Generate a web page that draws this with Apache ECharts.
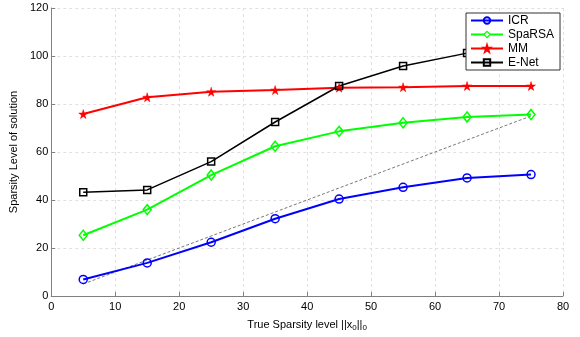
<!DOCTYPE html>
<html>
<head>
<meta charset="utf-8">
<script src="https://cdn.jsdelivr.net/npm/echarts@6/dist/echarts.min.js"></script>
<style>html,body{margin:0;padding:0;background:#fff}#c{width:580px;height:337px}</style>
</head>
<body>
<div id="c"></div>
<script>
var xValues = [5, 15, 25, 35, 45, 55, 65, 75];
var icr    = [6.9, 13.8, 22.4, 32.2, 40.4, 45.3, 49.2, 50.6];
var sparsa = [25.3, 36.0, 50.4, 62.4, 68.6, 72.2, 74.6, 75.6];
var mm     = [75.8, 82.8, 85.1, 85.8, 86.8, 87.0, 87.5, 87.5];
var enet   = [43.2, 44.2, 56.0, 72.5, 87.5, 95.8, 101.2, 104.0];
var diagX  = [5, 75];
var diagY  = [5, 75];
var xTicks = [0, 10, 20, 30, 40, 50, 60, 70, 80];
var yTicks = [0, 20, 40, 60, 80, 100, 120];

function pairs(xs, ys) { return xs.map(function (x, i) { return [x, ys[i]]; }); }

var star = 'path://M50,0 L61,35 L98,35 L68,57 L79,91 L50,70 L21,91 L32,57 L2,35 L39,35 Z';
var font = 'Liberation Sans, Arial, sans-serif';

var chart = echarts.init(document.getElementById('c'), null, {renderer: 'canvas'});
chart.setOption({
  animation: false,
  backgroundColor: '#fff',
  textStyle: {fontFamily: font},
  grid: {left: 51, right: 17, top: 8, bottom: 41, containLabel: false},
  legend: {
    orient: 'vertical',
    left: 466, top: 13,
    padding: [1, 6, 1, 4],
    itemWidth: 32, itemHeight: 8, itemGap: 1,
    backgroundColor: '#fff',
    borderColor: '#333', borderWidth: 1,
    textStyle: {fontFamily: font, fontSize: 12, color: '#000', lineHeight: 13},
    data: [
      {name: 'ICR'},
      {name: 'SpaRSA', itemStyle: {color: '#fff', borderColor: '#00ff00', borderWidth: 1.2}},
      {name: 'MM'},
      {name: 'E-Net'}
    ]
  },
  xAxis: {
    type: 'value', min: 0, max: 80, interval: 10,
    name: 'True Sparsity level ||x{s|0}||{s|0}',
    nameLocation: 'middle', nameGap: 22,
    nameTextStyle: {fontFamily: font, fontSize: 11, color: '#000',
      rich: {s: {fontSize: 8, verticalAlign: 'bottom', padding: [6, 0, 0, 0], fontFamily: font}}},
    axisLine: {show: true, lineStyle: {color: '#808080', width: 1}},
    axisTick: {show: true, inside: true, length: 4, lineStyle: {color: '#808080'}},
    axisLabel: {fontFamily: font, fontSize: 11, color: '#000', margin: 5,
      formatter: function (v) { return xTicks.indexOf(v) >= 0 ? String(v) : ''; }},
    splitLine: {show: true, lineStyle: {color: '#e0e0e0', type: [3, 3], width: 1}}
  },
  yAxis: {
    type: 'value', min: 0, max: 120, interval: 20,
    name: 'Sparsity Level of solution',
    nameLocation: 'middle', nameGap: 29,
    nameTextStyle: {fontFamily: font, fontSize: 11, color: '#000'},
    axisLine: {show: true, lineStyle: {color: '#808080', width: 1}},
    axisTick: {show: true, inside: true, length: 4, lineStyle: {color: '#808080'}},
    axisLabel: {fontFamily: font, fontSize: 11, color: '#000', margin: 3,
      formatter: function (v) { return yTicks.indexOf(v) >= 0 ? String(v) : ''; }},
    splitLine: {show: true, lineStyle: {color: '#e0e0e0', type: [3, 3], width: 1}}
  },
  series: [
    {
      name: 'diag', type: 'line', data: pairs(diagX, diagY), symbol: 'none',
      lineStyle: {color: '#555', width: 0.8, type: [3, 2]}, z: 1, silent: true
    },
    {
      name: 'ICR', type: 'line', data: pairs(xValues, icr),
      symbol: 'circle', symbolSize: 8,
      itemStyle: {color: 'rgba(255,255,255,0)', borderColor: '#0000ff', borderWidth: 1.5},
      lineStyle: {color: '#0000ff', width: 2}, color: '#0000ff'
    },
    {
      name: 'SpaRSA', type: 'line', data: pairs(xValues, sparsa),
      symbol: 'diamond', symbolSize: [8, 10],
      itemStyle: {color: 'rgba(255,255,255,0)', borderColor: '#00ff00', borderWidth: 1.5},
      lineStyle: {color: '#00ff00', width: 2}, color: '#00ff00'
    },
    {
      name: 'MM', type: 'line', data: pairs(xValues, mm),
      symbol: star, symbolSize: 9,
      itemStyle: {color: '#ff0000', borderColor: '#ff0000', borderWidth: 0.5},
      lineStyle: {color: '#ff0000', width: 2}, color: '#ff0000'
    },
    {
      name: 'E-Net', type: 'line', data: pairs(xValues, enet),
      symbol: 'rect', symbolSize: 7,
      itemStyle: {color: 'rgba(255,255,255,0)', borderColor: '#000000', borderWidth: 1.5},
      lineStyle: {color: '#000000', width: 1.5}, color: '#000000'
    }
  ]
});
</script>
</body>
</html>
